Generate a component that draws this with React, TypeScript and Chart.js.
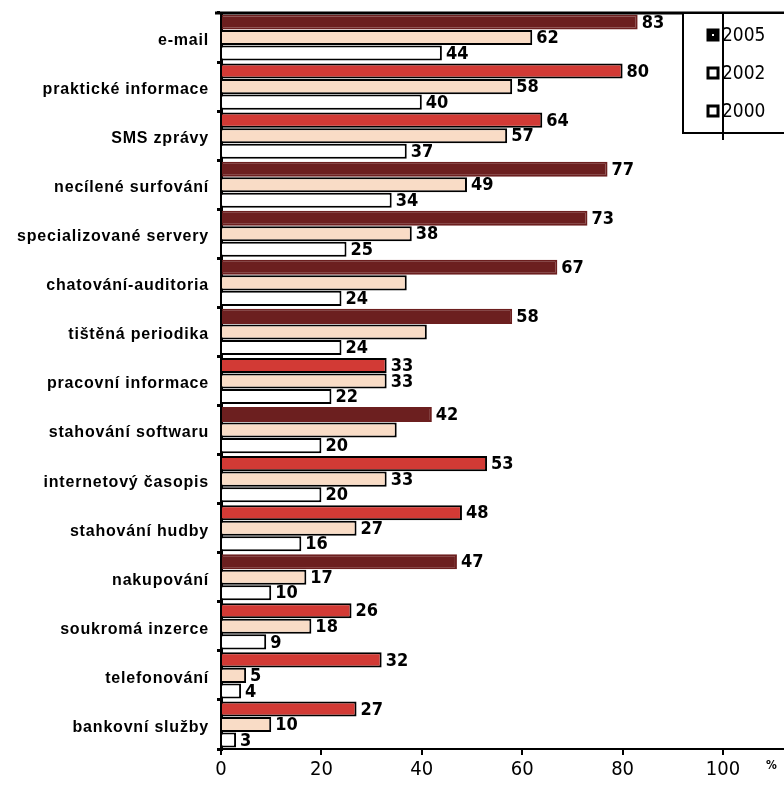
import React, { useEffect, useRef } from "react";
import { Chart, registerables } from "chart.js";

Chart.register(...registerables);

const categories = [
  "e-mail",
  "praktické informace",
  "SMS zprávy",
  "necílené surfování",
  "specializované servery",
  "chatování-auditoria",
  "tištěná periodika",
  "pracovní informace",
  "stahování softwaru",
  "internetový časopis",
  "stahování hudby",
  "nakupování",
  "soukromá inzerce",
  "telefonování",
  "bankovní služby",
];

const values2005 = [83, 80, 64, 77, 73, 67, 58, 33, 42, 53, 48, 47, 26, 32, 27];
const values2002 = [62, 58, 57, 49, 38, 37, 41, 33, 35, 33, 27, 17, 18, 5, 10];
const values2000 = [44, 40, 37, 34, 25, 24, 24, 22, 20, 20, 16, 10, 9, 4, 3];

// labels not readable in the reference (covered by print artefacts)
const hiddenLabels2002 = [5, 6, 8];
// 2005 bars printed as solid dark maroon (others appear red with black outline)
const solid2005 = [0, 3, 4, 5, 6, 8, 11];

const xTicks = [0, 20, 40, 60, 80, 100];
const seriesNames = ["2005", "2002", "2000"];

const MAROON = "#6c1f1f";
const RED = "#d23a35";
const PEACH = "#f9dcc6";
const NARROW = "'Liberation Sans Narrow', 'DejaVu Sans Condensed', 'Liberation Sans', sans-serif";

export default function App() {
  const ref = useRef<HTMLCanvasElement | null>(null);

  useEffect(() => {
    document.body.style.margin = "0";
    const canvas = ref.current;
    if (!canvas) return;

    const extras = {
      id: "extras",
      afterDatasetsDraw(chart: any) {
        const ctx = chart.ctx;
        const area = chart.chartArea;
        ctx.save();
        // category labels
        const yScale = chart.scales.y;
        ctx.font = "bold 16px 'Liberation Sans', Arial, sans-serif";
        (ctx as any).letterSpacing = "0.8px";
        ctx.fillStyle = "#000";
        ctx.textAlign = "right";
        ctx.textBaseline = "middle";
        categories.forEach((c, i) => {
          ctx.fillText(c, 209, yScale.getPixelForValue(i) + 3);
        });
        (ctx as any).letterSpacing = "0px";
        // value labels
        ctx.font = `bold 18px ${NARROW}`;
        ctx.textAlign = "left";
        chart.data.datasets.forEach((ds: any, di: number) => {
          const meta = chart.getDatasetMeta(di);
          meta.data.forEach((bar: any, i: number) => {
            if (di === 1 && hiddenLabels2002.includes(i)) return;
            ctx.fillText(String(ds.data[i]), bar.x + 4, bar.y + 1);
          });
        });
        // top frame line
        ctx.strokeStyle = "#000";
        ctx.lineWidth = 3;
        ctx.beginPath();
        ctx.moveTo(215, area.top);
        ctx.lineTo(784, area.top);
        ctx.stroke();
        // bottom axis extension
        ctx.lineWidth = 2;
        ctx.beginPath();
        ctx.moveTo(area.left, area.bottom);
        ctx.lineTo(784, area.bottom);
        ctx.stroke();
        // legend box
        ctx.lineWidth = 2;
        ctx.fillStyle = "#fff";
        ctx.fillRect(683, area.top, 110, 120);
        ctx.strokeRect(683, area.top, 110, 120);
        ctx.beginPath();
        ctx.moveTo(area.right, area.top);
        ctx.lineTo(area.right, 140);
        ctx.stroke();
        const ys = [35, 73, 111];
        seriesNames.forEach((name, k) => {
          const y = ys[k];
          ctx.lineWidth = 3;
          ctx.fillStyle = k === 0 ? "#000" : "#fff";
          ctx.fillRect(708, y - 5, 10, 10);
          ctx.strokeRect(708, y - 5, 10, 10);
          if (k === 0) {
            ctx.fillStyle = "#fff";
            ctx.fillRect(712, y - 1, 2, 2);
          }
          ctx.fillStyle = "#000";
          ctx.font = `19px ${NARROW}`;
          ctx.textAlign = "left";
          ctx.textBaseline = "middle";
          ctx.fillText(name, 722, y + 1);
        });
        // percent sign
        ctx.font = `bold 12px ${NARROW}`;
        ctx.textAlign = "left";
        ctx.fillText("%", 766, 766);
        ctx.restore();
      },
    };

    const common = {
      borderWidth: 2,
      borderSkipped: "left",
      categoryPercentage: 0.95,
      barPercentage: 0.97,
    };

    const chart = new Chart(canvas, {
      type: "bar",
      data: {
        labels: categories,
        datasets: [
          {
            label: seriesNames[0],
            data: values2005,
            backgroundColor: (c: any) => (solid2005.includes(c.dataIndex) ? MAROON : RED),
            borderColor: (c: any) => (solid2005.includes(c.dataIndex) ? MAROON : "#000"),
            ...common,
          },
          {
            label: seriesNames[1],
            data: values2002,
            backgroundColor: PEACH,
            borderColor: "#000",
            ...common,
          },
          {
            label: seriesNames[2],
            data: values2000,
            backgroundColor: "#fff",
            borderColor: "#000",
            ...common,
          },
        ],
      },
      options: {
        indexAxis: "y",
        responsive: false,
        animation: false,
        devicePixelRatio: 1,
        layout: { padding: { top: 13, right: 61, left: 0, bottom: 0 } },
        plugins: {
          legend: { display: false },
          tooltip: { enabled: false },
        },
        scales: {
          x: {
            min: 0,
            max: 100,
            afterFit: (s: any) => {
              s.height = 36;
            },
            afterBuildTicks: (s: any) => {
              s.ticks = xTicks.map((v) => ({ value: v }));
            },
            grid: {
              drawOnChartArea: false,
              drawTicks: true,
              tickLength: 6,
              color: "#000",
              lineWidth: 2,
            },
            border: { display: true, color: "#000", width: 2 },
            ticks: {
              color: "#000",
              padding: 3,
              font: { family: NARROW, size: 20 },
              maxRotation: 0,
            },
          },
          y: {
            afterFit: (s: any) => {
              s.width = 221;
            },
            grid: {
              offset: true,
              drawOnChartArea: false,
              drawTicks: true,
              tickLength: 4,
              color: "#000",
              lineWidth: 3,
            },
            border: { display: true, color: "#000", width: 3 },
            ticks: {
              display: false,
            },
          },
        },
      },
      plugins: [extras],
    } as any);

    return () => chart.destroy();
  }, []);

  return (
    <div style={{ width: 784, height: 785, background: "#fff" }}>
      <canvas ref={ref} width={784} height={785} style={{ display: "block" }} />
    </div>
  );
}
